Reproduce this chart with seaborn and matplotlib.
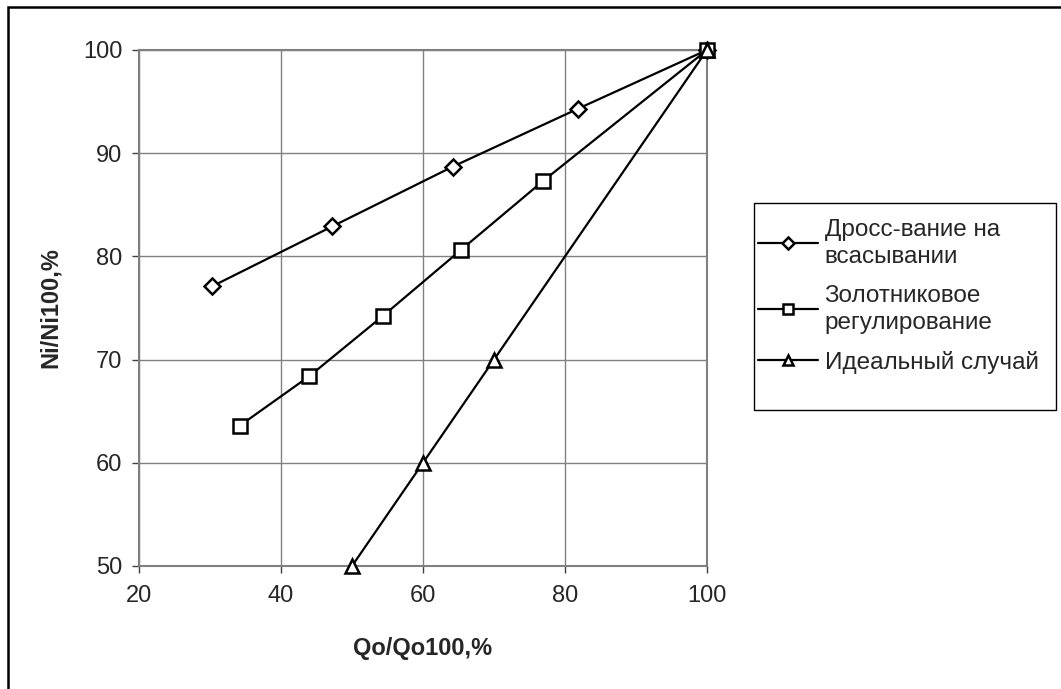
import matplotlib
matplotlib.use("Agg")
import matplotlib.pyplot as plt
import seaborn as sns
import pandas as pd
from matplotlib.patches import Rectangle

# Throttling on suction
drossel_x = [30.3, 47.2, 64.2, 81.8, 100.0]
drossel_y = [77.1, 82.9, 88.7, 94.3, 100.0]
# Spool valve regulation
spool_x = [34.2, 44.0, 54.3, 65.3, 76.9, 100.0]
spool_y = [63.6, 68.4, 74.2, 80.6, 87.3, 100.0]
# Ideal case
ideal_x = [50.0, 60.0, 70.0, 100.0]
ideal_y = [50.0, 60.0, 70.0, 100.0]

labels = ["Дросс-вание на\nвсасывании", "Золотниковое\nрегулирование", "Идеальный случай"]
x_ticks = [20, 40, 60, 80, 100]
y_ticks = [50, 60, 70, 80, 90, 100]

sns.set_style("white")
plt.rcParams["font.family"] = ["Liberation Sans", "DejaVu Sans"]

fig = plt.figure(figsize=(10.61, 6.89), dpi=100)
ax = fig.add_axes([139 / 1061, 1 - 566 / 689, (707 - 139) / 1061, (566 - 50) / 689])

series = [
    (drossel_x, drossel_y, "D", 8),
    (spool_x, spool_y, "s", 10),
    (ideal_x, ideal_y, "^", 10),
]
for (xs, ys, mk, ms), lab in zip(series, labels):
    df = pd.DataFrame({"x": xs, "y": ys})
    sns.lineplot(data=df, x="x", y="y", ax=ax, sort=False, color="black",
                 linewidth=1.6, marker=mk, markersize=ms, markerfacecolor="white",
                 markeredgecolor="black", markeredgewidth=1.8, label=lab, zorder=3,
                 clip_on=False)

ax.set_xlim(20, 100)
ax.set_ylim(50, 100)
ax.set_xticks(x_ticks)
ax.set_yticks(y_ticks)
ax.grid(True, color="#808080", linewidth=1.0)
ax.set_axisbelow(True)
for s in ax.spines.values():
    s.set_color("#808080")
    s.set_linewidth(1.5)
ax.tick_params(axis="both", which="major", direction="out", length=5, width=1,
               color="#404040", labelsize=17, left=True, bottom=True)
ax.tick_params(axis="y", pad=7)
ax.tick_params(axis="x", pad=9)
ax.set_xlabel("Qo/Qo100,%", fontsize=17, fontweight="bold", labelpad=21)
ax.set_ylabel("Ni/Ni100,%", fontsize=17, fontweight="bold", labelpad=15)

leg = ax.legend(loc="upper left", bbox_to_anchor=(748 / 1061, 1 - 209 / 689),
                bbox_transform=fig.transFigure, frameon=False, fontsize=17.5,
                handlelength=2.5, handletextpad=0.25, labelspacing=0.7,
                borderaxespad=0, markerscale=0.75)
for t in leg.get_texts():
    t.set_linespacing(1.3)

# legend frame
fig.patches.append(Rectangle((754 / 1061, 1 - 410 / 689), (1056 - 754) / 1061,
                             (410 - 203) / 689, transform=fig.transFigure,
                             fill=False, edgecolor="black", linewidth=1.0))
# chart border (top and left edges visible)
fig.patches.append(Rectangle((8 / 1061, -0.1), 1.2, 1 - 7 / 689 + 0.1,
                             transform=fig.transFigure, fill=False,
                             edgecolor="black", linewidth=1.8))

fig.savefig("out.png", dpi=100)
